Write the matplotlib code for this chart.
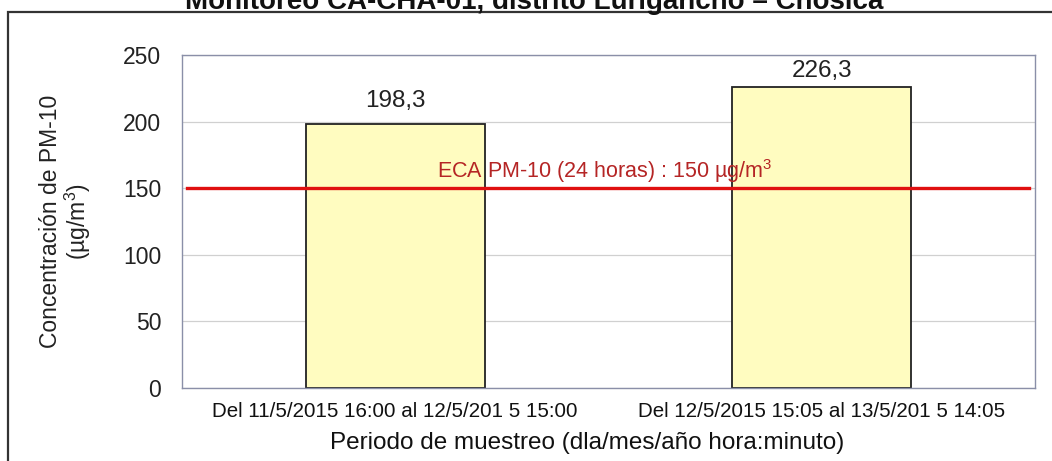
import matplotlib
matplotlib.use("Agg")
import matplotlib.pyplot as plt
from matplotlib.patches import Rectangle

categories = ["Del 11/5/2015 16:00 al 12/5/201 5 15:00", "Del 12/5/2015 15:05 al 13/5/201 5 14:05"]
values = [198.3, 226.3]
value_labels = ["198,3", "226,3"]
eca_value = 150
eca_label = "ECA PM-10 (24 horas) : 150 µg/m$^3$"
yticks = [0, 50, 100, 150, 200, 250]
title = "Monitoreo CA-CHA-01, distrito Lurigancho \u2013 Chosica"

plt.rcParams['font.family'] = ['Liberation Sans', 'DejaVu Sans']
plt.rcParams['mathtext.fontset'] = 'custom'
plt.rcParams['mathtext.rm'] = 'Liberation Sans'

fig = plt.figure(figsize=(10.52, 4.61), dpi=100)
ax = fig.add_axes([182/1052, 1-388/461, (1035-182)/1052, (388-55)/461])

x = list(range(len(categories)))
ax.bar(x, values, width=0.42, color="#FFFCC0", edgecolor="#222222", linewidth=1.3, zorder=2)
label_gaps = [12.5, 7.0]
for xi, v, lab, g in zip(x, values, value_labels, label_gaps):
    ax.text(xi, v + g, lab, ha="center", va="baseline", fontsize=17.5, color="#222222", zorder=4)

ax.plot([-0.488, 1.485], [eca_value, eca_value], color="#E01010", linewidth=2.4, zorder=3)
ax.text(0.49, eca_value + 8, eca_label, ha="center", va="baseline", fontsize=15.5, color="#B52525", zorder=4)

ax.set_xlim(-0.5, 1.5)
ax.set_ylim(0, 250)
ax.set_yticks(yticks)
ax.set_yticklabels([str(t) for t in yticks], fontsize=16.5, color="#222222")
ax.set_xticks(x)
ax.set_xticklabels(categories, fontsize=14.8, color="#111111")
ax.tick_params(axis="y", length=0, pad=15)
ax.tick_params(axis="x", length=0, pad=10)
ax.yaxis.grid(True, color="#D0D0D0", linewidth=0.9, zorder=0)
ax.set_axisbelow(True)
for s in ax.spines.values():
    s.set_color("#8A8FA8")
    s.set_linewidth(1.0)

ax.set_ylabel("Concentración de PM-10\n(µg/m$^3$)", fontsize=16.5, color="#222222", linespacing=1.0)
ax.yaxis.set_label_coords(-(182-66)/853, 0.5)
ax.set_xlabel("Periodo de muestreo (dla/mes/año hora:minuto)", fontsize=17.5, color="#111111")
ax.xaxis.set_label_coords((587-182)/853, -(443-388)/333)
ax.xaxis.label.set_va("center")
ax.yaxis.label.set_va("center")

# outer frame
fig.add_artist(Rectangle((8/1052, -0.02), 1.1, 1.02 - 12/461, transform=fig.transFigure,
                         fill=False, edgecolor="#333333", linewidth=1.6))
fig.text(534/1052, 1 - 9/461, title, ha="center", va="baseline", fontsize=20, fontweight="bold", color="#111111")

fig.savefig("out.png", dpi=100)
